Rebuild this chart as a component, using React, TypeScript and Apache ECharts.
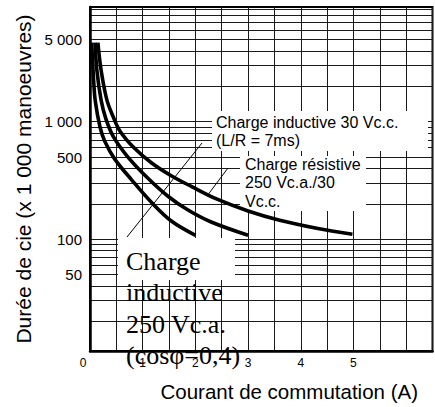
import React, { useEffect, useRef } from "react";
import * as echarts from "echarts";

// ---- data ----
const xTickValues = [0, 1, 2, 3, 4, 5];
const xTickLabels = ["0", "1", "2", "3", "4", "5"];
const yLabelValues = [50, 100, 500, 1000, 5000];
const yLabelTexts = ["50", "100", "500", "1 000", "5 000"];
const yGridValues = [
  20, 30, 40, 50, 60, 70, 80, 90, 100, 200, 300, 400, 500, 600, 700, 800, 900,
  1000, 2000, 3000, 4000, 5000, 6000, 7000, 8000, 9000,
];
const yAxisMinValue = 11.2;
const yAxisMaxValue = 9440;

// Charge inductive 250 Vc.a. (cosφ=0,4)
const innerX = [0.03, 0.05, 0.07, 0.1, 0.19, 0.28, 0.47, 0.79, 1.17, 1.55, 2.0];
const innerY = [4700, 3200, 2200, 1500, 900, 680, 480, 320, 205, 142, 108];
// Charge inductive 30 Vc.c. (L/R = 7ms)
const middleX = [0.095, 0.13, 0.21, 0.3, 0.44, 0.72, 1.1, 1.48, 1.86, 2.3, 3.0];
const middleY = [4700, 2750, 1530, 1060, 750, 500, 330, 232, 177, 140, 108];
// Charge résistive 250 Vc.a./30 Vc.c.
const outerX = [0.15, 0.21, 0.32, 0.44, 0.57, 0.85, 1.17, 1.55, 1.93, 2.4, 3.0, 3.6, 4.3, 4.98];
const outerY = [4700, 2750, 1530, 1100, 830, 590, 445, 345, 280, 220, 174, 145, 124, 110];

const xTitle = "Courant de commutation (A)";
const yTitle = "Durée de cie (x 1 000 manoeuvres)";
const labelInductiveDC = ["Charge inductive 30 Vc.c.", "(L/R = 7ms)"];
const labelResistive = ["Charge résistive", "250 Vc.a./30", "Vc.c."];
const labelInductiveAC = ["Charge", "inductive", "250 Vc.a.", "(cosφ=0,4)"];

const SANS = '"Liberation Sans", Arial, sans-serif';
const SERIF = '"Liberation Serif", "Times New Roman", serif';

const toLogPairs = (xs: number[], ys: number[]) =>
  xs.map((x, i) => [x, Math.log10(ys[i])]);

export default function App() {
  const ref = useRef<HTMLDivElement>(null);

  useEffect(() => {
    if (!ref.current) return;
    const chart = echarts.init(ref.current, undefined, { renderer: "svg" });

    const curve = (name: string, data: number[][]) => ({
      name,
      type: "line",
      data,
      symbol: "none",
      smooth: 0.35,
      lineStyle: { color: "#000", width: 3.6 },
      z: 2,
    });

    const textEl = (text: string, x: number, y: number, size: number, family: string) => ({
      type: "text",
      z: 3,
      style: {
        text,
        x,
        y,
        fontSize: size,
        fontFamily: family,
        fill: "#000",
        align: "left",
        verticalAlign: "middle",
      },
    });

    const option: any = {
      animation: false,
      textStyle: { fontFamily: SANS },
      grid: {
        left: 90,
        right: 2.5,
        top: 7,
        bottom: 56,
        show: true,
        borderColor: "#000",
        borderWidth: 2,
        containLabel: false,
        outerBoundsMode: "none",
      },
      xAxis: {
        type: "value",
        min: 0,
        max: 6.5,
        interval: 0.5,
        axisLine: { show: true, lineStyle: { color: "#000", width: 2.5 } },
        axisTick: { show: false },
        splitLine: { show: true, lineStyle: { color: "#1a1a1a", width: 1 } },
        axisLabel: {
          color: "#000",
          fontSize: 12,
          fontFamily: SANS,
          margin: 6,
          formatter: (v: number) => {
            const i = xTickValues.findIndex((t) => Math.abs(t - v) < 1e-6);
            if (i < 0) return "";
            return i === 0 ? "{zero|" + xTickLabels[i] + "}" : xTickLabels[i];
          },
          rich: { zero: { fontSize: 12, fontFamily: SANS, color: "#000", padding: [0, 14, 0, 0] } },
        },
        name: xTitle,
        nameLocation: "middle",
        nameGap: 30,
        nameTextStyle: { fontSize: 20.5, color: "#000", fontFamily: SANS, padding: [0, 0, 0, 56] },
      },
      yAxis: {
        type: "value",
        min: Math.log10(yAxisMinValue),
        max: Math.log10(yAxisMaxValue),
        axisLine: { show: true, lineStyle: { color: "#000", width: 2.5 } },
        axisTick: { show: false, customValues: yGridValues.map((v) => Math.log10(v)) },
        splitLine: { show: true, lineStyle: { color: "#1a1a1a", width: 1 } },
        axisLabel: {
          color: "#000",
          fontSize: 15,
          fontFamily: SANS,
          margin: 8,
          customValues: yLabelValues.map((v) => Math.log10(v)),
          formatter: (v: number) => {
            const i = yLabelValues.findIndex((t) => Math.abs(Math.log10(t) - v) < 1e-6);
            return i < 0 ? "" : yLabelTexts[i];
          },
        },
        name: yTitle,
        nameLocation: "middle",
        nameGap: 56,
        nameRotate: 90,
        nameTextStyle: { fontSize: 21, color: "#000", fontFamily: SANS },
      },
      series: [
        curve("Charge inductive 250 Vc.a.", toLogPairs(innerX, innerY)),
        curve("Charge inductive 30 Vc.c.", toLogPairs(middleX, middleY)),
        curve("Charge résistive", toLogPairs(outerX, outerY)),
      ],
      graphic: [
        { type: "rect", z: 1, shape: { x: 212, y: 111, width: 216, height: 40 }, style: { fill: "#fff" } },
        { type: "rect", z: 1, shape: { x: 240, y: 156, width: 126, height: 55 }, style: { fill: "#fff" } },
        { type: "rect", z: 1, shape: { x: 118, y: 238, width: 117, height: 42 }, style: { fill: "#fff" } },
        { type: "line", z: 3, shape: { x1: 127, y1: 237, x2: 202, y2: 143 }, style: { stroke: "#000", lineWidth: 1 } },
        { type: "line", z: 3, shape: { x1: 228, y1: 168, x2: 207, y2: 196 }, style: { stroke: "#000", lineWidth: 1 } },
        textEl(labelInductiveDC[0], 216, 122, 16, SANS),
        textEl(labelInductiveDC[1], 216, 140, 16, SANS),
        textEl(labelResistive[0], 245, 164, 16, SANS),
        textEl(labelResistive[1], 245, 182.7, 16, SANS),
        textEl(labelResistive[2], 245, 201.3, 16, SANS),
        textEl(labelInductiveAC[0], 126, 261, 26, SERIF),
        textEl(labelInductiveAC[1], 126, 292, 26, SERIF),
        textEl(labelInductiveAC[2], 126, 324, 26, SERIF),
        textEl(labelInductiveAC[3], 126, 355, 26, SERIF),
      ],
    };

    chart.setOption(option);
    return () => chart.dispose();
  }, []);

  return (
    <div
      ref={ref}
      style={{ position: "fixed", left: 0, top: 0, width: 435, height: 407, background: "#fff" }}
    />
  );
}
